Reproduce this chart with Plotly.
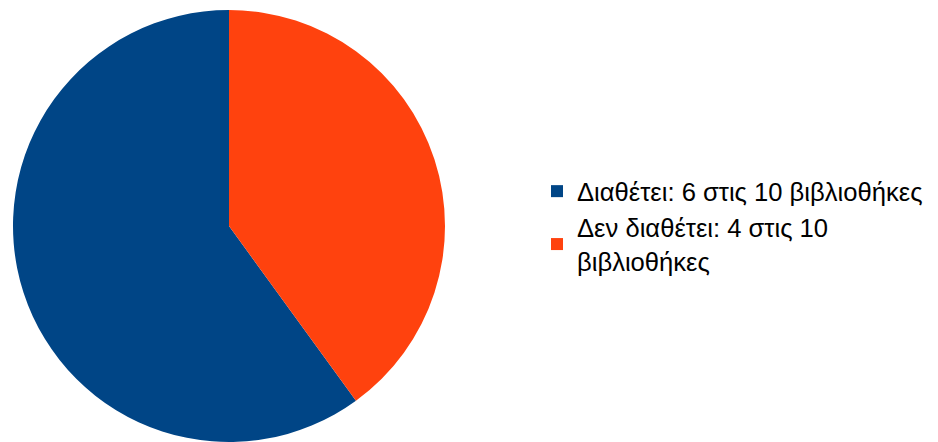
import plotly.graph_objects as go

labels = ["Διαθέτει: 6 στις 10 βιβλιοθήκες", "Δεν διαθέτει: 4 στις 10<br>βιβλιοθήκες"]
values = [6, 4]
colors = ["#004586", "#ff420e"]

W, H = 938, 442
OFF = 8  # page body margin offset

fig = go.Figure(go.Pie(
    labels=labels,
    values=values,
    marker=dict(colors=colors, line=dict(width=0)),
    sort=False,
    direction="clockwise",
    rotation=144,
    textinfo="none",
    hoverinfo="label+percent",
    domain=dict(x=[(13 - OFF) / W, (445 - OFF) / W],
                y=[(H - (442 - OFF)) / H, (H - (10 - OFF)) / H]),
))

fig.update_layout(
    width=W, height=H,
    margin=dict(l=0, r=0, t=0, b=0),
    paper_bgcolor="white",
    plot_bgcolor="white",
    font=dict(family="Liberation Sans, Arial, sans-serif", size=25.6, color="#000000"),
    legend=dict(
        x=(537 - OFF) / W, y=1 - (226 - OFF) / H, xanchor="left", yanchor="middle",
        font=dict(size=25.6, color="#000000"),
        itemwidth=30,
        tracegroupgap=0,
    ),
)

fig.write_html("out.html")
